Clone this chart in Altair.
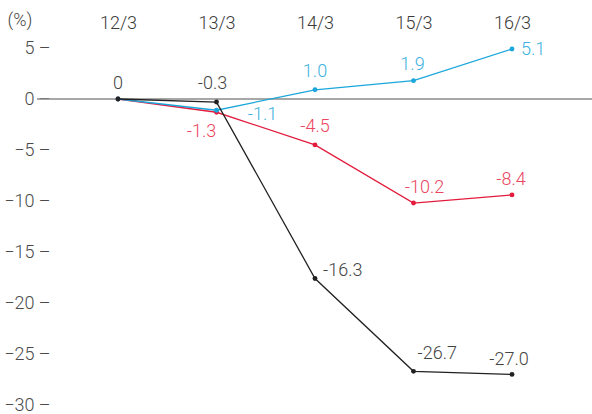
import altair as alt
import pandas as pd

periods = ["12/3", "13/3", "14/3", "15/3", "16/3"]
blue_vals = [0, -1.1, 0.9, 1.8, 4.9]
red_vals = [0, -1.3, -4.5, -10.2, -9.4]
black_vals = [0, -0.3, -17.6, -26.7, -27.0]
blue_labels = [None, "-1.1", "1.0", "1.9", "5.1"]
red_labels = [None, "-1.3", "-4.5", "-10.2", "-8.4"]
black_labels = ["0", "-0.3", "-16.3", "-26.7", "-27.0"]
y_ticks = [5, 0, -5, -10, -15, -20, -25, -30]

series = [
    ("red", red_vals, red_labels, "#e31b3c", "#ec4560"),
    ("blue", blue_vals, blue_labels, "#1ba7db", "#3db2e0"),
    ("black", black_vals, black_labels, "#222222", "#444444"),
]

rows = []
for name, vals, labs, _, _ in series:
    for p, v, l in zip(periods, vals, labs):
        rows.append({"series": name, "period": p, "value": v, "label": l})
df = pd.DataFrame(rows)

# label placement offsets (dx, dy, align) per series/period
offsets = {
    ("black", "12/3"): (0, -15, "center"),
    ("black", "13/3"): (-4, -18, "center"),
    ("black", "14/3"): (8, -8, "left"),
    ("black", "15/3"): (4, -17, "left"),
    ("black", "16/3"): (-3, -14, "center"),
    ("red", "13/3"): (-15, 20, "center"),
    ("red", "14/3"): (0, -18, "center"),
    ("red", "15/3"): (11, -15, "center"),
    ("red", "16/3"): (-1, -15, "center"),
    ("blue", "13/3"): (46, 5, "center"),
    ("blue", "14/3"): (0, -18, "center"),
    ("blue", "15/3"): (-1, -16, "center"),
    ("blue", "16/3"): (9, 1, "left"),
}

FONT = "Roboto"
FW = 300
FS = 18
xscale = alt.Scale(type="point", domain=periods, range=[118, 512], padding=0)
yscale = alt.Scale(domain=[-30, 5], range=[405, 48], nice=False, zero=False)

yaxis = alt.Axis(values=y_ticks, orient="left", offset=-52, domain=False,
                 ticks=False, grid=False, labelPadding=2,
                 labelExpr="datum.label + ' –'", labelFont=FONT,
                 labelFontSize=FS, labelColor="#4a4a4a", labelFontWeight=FW,
                 title="(%)", titleAngle=0, titleX=-45, titleY=20,
                 titleAlign="left", titleBaseline="middle", titleFont=FONT,
                 titleFontSize=FS, titleFontWeight=FW, titleColor="#4a4a4a")
xaxis = alt.Axis(orient="top", offset=-30, domain=False, ticks=False, grid=False,
                 labelAngle=0, labelPadding=2, labelBaseline="alphabetic",
                 labelFont=FONT, labelFontSize=FS, labelColor="#3a3a3a",
                 labelFontWeight=FW, title=None)

X = alt.X("period:N", scale=xscale, sort=periods, axis=xaxis)
Y = alt.Y("value:Q", scale=yscale, axis=yaxis)

base = alt.Chart(df)

zero_rule = base.transform_filter(
    (alt.datum.series == "black") & (alt.datum.period == "12/3")
).mark_rule(color="#8a8a8a", strokeWidth=1.6).encode(
    y=Y,
    x=alt.value(37),
    x2=alt.value(592),
)

layers = [zero_rule]
for name, vals, labs, lcolor, tcolor in series:
    sub = base.transform_filter(alt.datum.series == name)
    layers.append(sub.mark_line(color=lcolor, strokeWidth=1.3).encode(x=X, y=Y))
    layers.append(sub.mark_circle(color=lcolor, size=24, opacity=1).encode(x=X, y=Y))

for name, vals, labs, lcolor, tcolor in series:
    for p, l in zip(periods, labs):
        if l is None:
            continue
        dx, dy, align = offsets[(name, p)]
        layers.append(
            base.transform_filter(
                (alt.datum.series == name) & (alt.datum.period == p)
            ).mark_text(
                dx=dx, dy=dy, align=align, baseline="middle", font=FONT,
                fontSize=FS, fontWeight=FW, color=tcolor,
            ).encode(x=X, y=Y, text="label:N")
        )

chart = alt.layer(*layers).properties(
    width=592, height=414, autosize=alt.AutoSizeParams(type="none"),
    padding={"left": 0, "top": 0, "right": 0, "bottom": 0},
    background="white",
).configure_view(stroke=None)

chart.save("out.html", embed_options={"renderer": "svg", "actions": False})
